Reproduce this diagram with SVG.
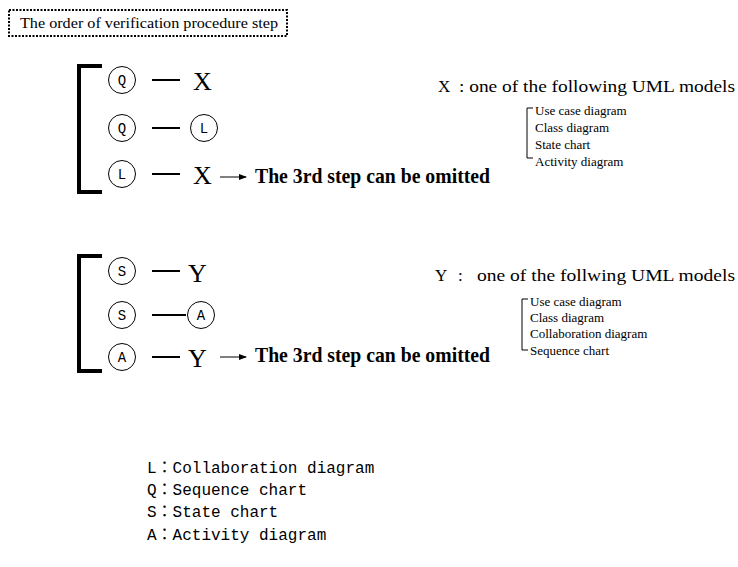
<svg xmlns="http://www.w3.org/2000/svg" width="738" height="567" viewBox="0 0 738 567">
<defs>
<style>
.serif{font-family:"Liberation Serif","Times New Roman",serif;fill:#000}
.mono{font-family:"Liberation Mono","Courier New","Noto Sans CJK JP",monospace;fill:#000}
.circ{fill:#fff;stroke:#000;stroke-width:1}
.br{fill:none;stroke:#000;stroke-width:4}
.dash{stroke:#000;stroke-width:2}
.thin{fill:none;stroke:#000;stroke-width:1}
.big{font-size:26px}
.lbl{font-size:14px;text-anchor:middle}
.om{font-size:21px;font-weight:bold}
.mdl{font-size:17px}
.sub{font-size:13px}
.leg{font-size:16px}
</style>
<marker id="ah" markerWidth="8" markerHeight="6" refX="7" refY="3" orient="auto" markerUnits="userSpaceOnUse">
<path d="M0,0 L8,3 L0,6 z" fill="#000"/>
</marker>
</defs>
<rect width="738" height="567" fill="#fff"/>

<g id="title">
<rect x="9" y="10" width="278" height="26" fill="none" stroke="#000" stroke-width="2" stroke-dasharray="2,1.5"/>
<text class="serif" x="20" y="28" font-size="14.5" textLength="258" lengthAdjust="spacingAndGlyphs">The order of verification procedure step</text>
</g>

<g id="bracket1"><path class="br" d="M102,66 H79 V192 H102"/></g>
<g id="g1r1q"><circle class="circ" cx="122" cy="80" r="13.5"/><text class="mono lbl" x="122" y="85">Q</text></g>
<g id="g1r1x"><text class="serif big" x="193" y="90">X</text></g>
<g id="g1r2q"><circle class="circ" cx="122" cy="128" r="13.5"/><text class="mono lbl" x="122" y="133">Q</text></g>
<g id="g1r2l"><circle class="circ" cx="204" cy="128" r="13.5"/><text class="mono lbl" x="204" y="133">L</text></g>
<g id="g1r3l"><circle class="circ" cx="122" cy="174" r="13.5"/><text class="mono lbl" x="122" y="179">L</text></g>
<g id="g1r3x"><text class="serif big" x="193" y="184">X</text></g>
<g id="g1note"><text class="serif om" x="255" y="183" textLength="235" lengthAdjust="spacingAndGlyphs">The 3rd step can be omitted</text></g>

<g id="g1models">
<text class="serif mdl" x="438" y="92">X</text>
<text class="serif mdl" x="459" y="92" textLength="276" lengthAdjust="spacingAndGlyphs">: one of the following UML models</text>
</g>
<g id="g1list">
<path class="thin" d="M533,108 H527 V158 H533"/>
<text class="serif sub" x="535" y="115">Use case diagram</text>
<text class="serif sub" x="535" y="132">Class diagram</text>
<text class="serif sub" x="535" y="149">State chart</text>
<text class="serif sub" x="535" y="166">Activity diagram</text>
</g>

<g id="bracket2"><path class="br" d="M102,256 H79 V371 H102"/></g>
<g id="g2r1s"><circle class="circ" cx="122" cy="271" r="13.5"/><text class="mono lbl" x="122" y="276">S</text></g>
<g id="g2r1y"><text class="serif big" x="188" y="282">Y</text></g>
<g id="g2r2s"><circle class="circ" cx="122" cy="315" r="13.5"/><text class="mono lbl" x="122" y="320">S</text></g>
<g id="g2r2a"><circle class="circ" cx="201" cy="315" r="13.5"/><text class="mono lbl" x="201" y="320">A</text></g>
<g id="g2r3a"><circle class="circ" cx="122" cy="357" r="13.5"/><text class="mono lbl" x="122" y="362">A</text></g>
<g id="g2r3y"><text class="serif big" x="188" y="367">Y</text></g>
<g id="g2note"><text class="serif om" x="255" y="362" textLength="235" lengthAdjust="spacingAndGlyphs">The 3rd step can be omitted</text></g>

<g id="g2models">
<text class="serif mdl" x="435" y="281">Y</text>
<text class="serif mdl" x="458" y="281">:</text>
<text class="serif mdl" x="477" y="281" textLength="258" lengthAdjust="spacingAndGlyphs">one of the follwing UML models</text>
</g>
<g id="g2list">
<path class="thin" d="M528,299 H522 V350 H528"/>
<text class="serif sub" x="530" y="306">Use case diagram</text>
<text class="serif sub" x="530" y="322">Class diagram</text>
<text class="serif sub" x="530" y="338">Collaboration diagram</text>
<text class="serif sub" x="530" y="355">Sequence chart</text>
</g>

<g id="connectors">
<line class="dash" x1="152" y1="80" x2="180" y2="80"/>
<line class="dash" x1="152" y1="128" x2="180" y2="128"/>
<line class="dash" x1="152" y1="174" x2="180" y2="174"/>
<line class="thin" x1="220" y1="177" x2="246" y2="177" marker-end="url(#ah)"/>
<line class="dash" x1="152" y1="271" x2="180" y2="271"/>
<line class="dash" x1="152" y1="315" x2="186" y2="315"/>
<line class="dash" x1="152" y1="357" x2="180" y2="357"/>
<line class="thin" x1="220" y1="357" x2="246" y2="357" marker-end="url(#ah)"/>
</g>

<g id="legend">
<text class="mono leg" x="147" y="473">L：Collaboration diagram</text>
<text class="mono leg" x="147" y="495">Q：Sequence chart</text>
<text class="mono leg" x="147" y="517">S：State chart</text>
<text class="mono leg" x="147" y="540">A：Activity diagram</text>
</g>
</svg>
